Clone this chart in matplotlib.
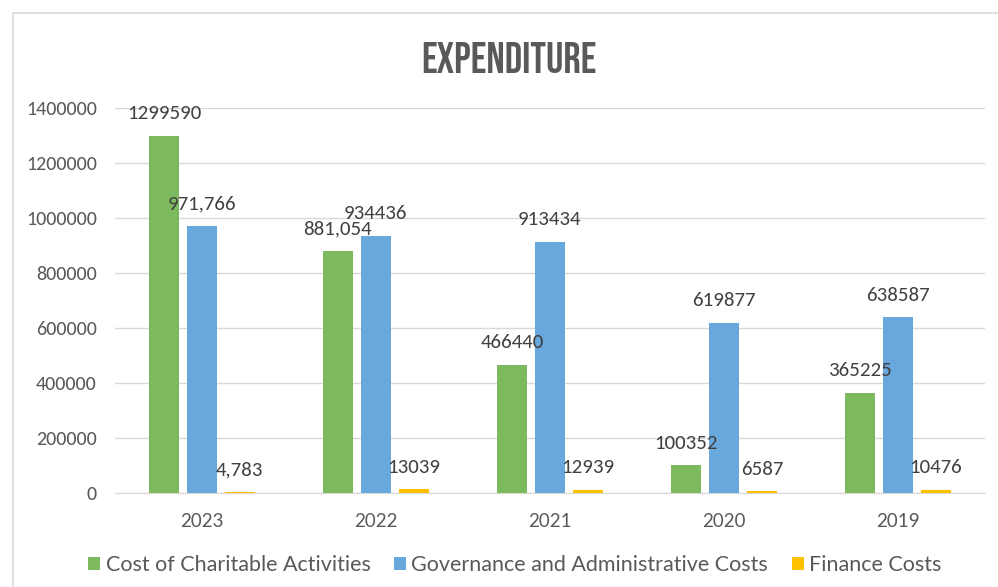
import numpy as np
import matplotlib.pyplot as plt
from matplotlib.patches import Rectangle

# Data
years = ['2023', '2022', '2021', '2020', '2019']
series_names = ['Cost of Charitable Activities',
                'Governance and Administrative Costs',
                'Finance Costs']
charitable = [1299590, 881054, 466440, 100352, 365225]
governance = [971766, 934436, 913434, 619877, 638587]
finance = [4783, 13039, 12939, 6587, 10476]
charitable_labels = ['1299590', '881,054', '466440', '100352', '365225']
governance_labels = ['971,766', '934436', '913434', '619877', '638587']
finance_labels = ['4,783', '13039', '12939', '6587', '10476']

colors = ['#7db95e', '#68a8dc', '#ffc000']
text_dark = '#404040'
text_grey = '#595959'

fig = plt.figure(figsize=(9.98, 5.87), dpi=100)
ax = fig.add_axes([0.115, 0.160, 0.872, 0.656])

# light frame around the chart
fig.patches.append(Rectangle((13 / 998, -0.1), 1.2, (587 - 13) / 587 + 0.1,
                             transform=fig.transFigure, fill=False,
                             edgecolor='#d9d9d9', linewidth=1.2))

x = np.arange(len(years))
width = 0.172
step = 0.218
all_values = [charitable, governance, finance]
all_labels = [charitable_labels, governance_labels, finance_labels]

for i, (vals, labs) in enumerate(zip(all_values, all_labels)):
    pos = x + (i - 1) * step
    ax.bar(pos, vals, width, color=colors[i], label=series_names[i], zorder=3)
    for px, v, lab in zip(pos, vals, labs):
        ax.annotate(lab, xy=(px, v), xytext=(0, 16), textcoords='offset points',
                    ha='center', va='center', fontsize=15, color=text_dark,
                    family='Carlito', zorder=5)

ax.set_xlim(-0.5, len(years) - 0.5)
ax.set_ylim(0, 1400000)
ax.set_yticks(np.arange(0, 1400001, 200000))
ax.set_yticklabels([str(v) for v in range(0, 1400001, 200000)])
ax.set_xticks(x)
ax.set_xticklabels(years)
ax.tick_params(axis='both', length=0, colors=text_grey)
ax.tick_params(axis='y', pad=13, labelsize=14.5, labelfontfamily='Carlito')
ax.tick_params(axis='x', pad=14, labelsize=13.5, labelfontfamily='Lato')

ax.grid(axis='y', color='#d9d9d9', linewidth=1, zorder=0)
for s in ['left', 'right', 'top']:
    ax.spines[s].set_visible(False)
ax.spines['bottom'].set_color('#d9d9d9')

fig.text(0.51, 0.902, 'EXPENDITURE', ha='center', va='center', fontsize=31,
         color=text_grey, family='Bebas Neue')

leg = fig.legend(loc='center', bbox_to_anchor=(0.516, 0.037), ncol=3,
                 frameon=False, prop={'family': 'Lato', 'size': 15.5},
                 handlelength=0.55, handleheight=0.55, handletextpad=0.25,
                 columnspacing=1.1)
for t in leg.get_texts():
    t.set_color(text_grey)

fig.savefig('out.png', dpi=100)
